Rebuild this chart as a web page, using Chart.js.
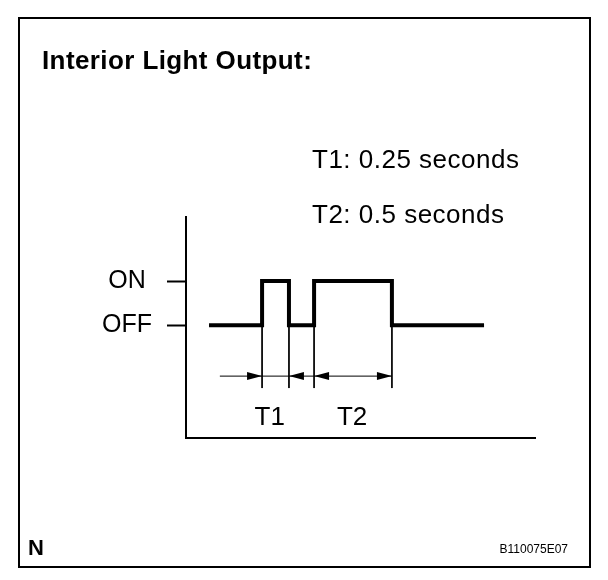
<!DOCTYPE html>
<html>
<head>
<meta charset="utf-8">
<script src="https://cdn.jsdelivr.net/npm/chart.js@4/dist/chart.umd.min.js"></script>
<style>
  html, body { margin: 0; padding: 0; background: #fff; }
  #wrap { width: 608px; height: 580px; }
</style>
</head>
<body>
<div id="wrap"><canvas id="c" width="608" height="580"></canvas></div>
<script>
// ---- data ----
const levelNames = ['OFF', 'ON'];
const levelValues = [2.55, 3.55];
const signalTimes = [6.6, 21.8, 21.8, 29.5, 29.5, 36.7, 36.7, 59.0, 59.0, 85.4];
const signalLevels = [2.55, 2.55, 3.55, 3.55, 2.55, 2.55, 3.55, 3.55, 2.55, 2.55];
const markerTimes = [21.8, 29.5, 36.7, 59.0];
const markerTop = 2.55;
const markerBottom = 1.13;
const arrowLevel = 1.40;
const arrowStart = 9.7;
const arrowEnd = 59.0;
const arrowTips = [21.8, 29.5, 36.7, 59.0];
const arrowDirs = [1, -1, -1, 1];
const intervalLabels = ['T1', 'T2'];
const intervalCenters = [24.0, 47.6];
const titleText = 'Interior Light Output:';
const noteLines = ['T1: 0.25 seconds', 'T2: 0.5 seconds'];
const cornerLeft = 'N';
const cornerRight = 'B110075E07';

const FONT = '"Liberation Sans", Arial, Helvetica, sans-serif';

const datasets = [];
datasets.push({
  data: signalTimes.map((t, i) => ({ x: t, y: signalLevels[i] })),
  showLine: true, borderColor: '#000', borderWidth: 4, pointRadius: 0,
  borderJoinStyle: 'miter', borderCapStyle: 'butt', clip: false
});
markerTimes.forEach((t) => {
  datasets.push({
    data: [{ x: t, y: markerTop }, { x: t, y: markerBottom }],
    showLine: true, borderColor: '#000', borderWidth: 1, pointRadius: 0, clip: false
  });
});
datasets.push({
  data: [{ x: arrowStart, y: arrowLevel }, { x: arrowEnd, y: arrowLevel }],
  showLine: true, borderColor: '#000', borderWidth: 1, pointRadius: 0, clip: false
});

const decor = {
  id: 'decor',
  afterDraw(chart) {
    const ctx = chart.ctx;
    const xs = chart.scales.x, ys = chart.scales.y;
    ctx.save();
    // frame
    ctx.strokeStyle = '#000';
    ctx.lineWidth = 2;
    ctx.strokeRect(19, 18, 571, 549);
    // arrowheads
    ctx.fillStyle = '#000';
    const ay = ys.getPixelForValue(arrowLevel);
    arrowTips.forEach((t, i) => {
      const tx = xs.getPixelForValue(t);
      const d = arrowDirs[i];
      ctx.beginPath();
      ctx.moveTo(tx, ay);
      ctx.lineTo(tx - d * 15, ay - 4);
      ctx.lineTo(tx - d * 15, ay + 4);
      ctx.closePath();
      ctx.fill();
    });
    // texts
    ctx.fillStyle = '#000';
    ctx.textBaseline = 'alphabetic';
    ctx.textAlign = 'left';
    ctx.font = 'bold 26px ' + FONT;
    if ('letterSpacing' in ctx) ctx.letterSpacing = '0.4px';
    ctx.fillText(titleText, 42, 69);
    ctx.font = '26px ' + FONT;
    if ('letterSpacing' in ctx) ctx.letterSpacing = '0.5px';
    ctx.fillText(noteLines[0], 312, 168);
    ctx.fillText(noteLines[1], 312, 223);
    if ('letterSpacing' in ctx) ctx.letterSpacing = '0px';
    ctx.textAlign = 'center';
    intervalLabels.forEach((s, i) => {
      ctx.fillText(s, xs.getPixelForValue(intervalCenters[i]), 425);
    });
    ctx.textAlign = 'left';
    ctx.font = 'bold 22px ' + FONT;
    ctx.fillText(cornerLeft, 28, 555);
    ctx.font = '12px ' + FONT;
    ctx.textAlign = 'right';
    ctx.fillText(cornerRight, 568, 553);
    ctx.restore();
  }
};

new Chart(document.getElementById('c'), {
  type: 'scatter',
  data: { datasets },
  options: {
    responsive: false,
    animation: false,
    events: [],
    layout: { padding: { left: 0, top: 217, right: 73, bottom: 142 } },
    plugins: { legend: { display: false }, tooltip: { enabled: false }, title: { display: false } },
    scales: {
      x: {
        type: 'linear', min: 0, max: 100,
        ticks: { display: false },
        grid: { display: false, drawTicks: false },
        border: { display: true, color: '#000', width: 2 },
        afterFit(s) { s.height = 0; }
      },
      y: {
        type: 'linear', min: 0, max: 5,
        afterBuildTicks(s) { s.ticks = levelValues.map(v => ({ value: v })); },
        ticks: {
          callback: (v) => { const i = levelValues.indexOf(v); return i >= 0 ? levelNames[i] : ''; },
          color: '#000', font: { family: FONT, size: 25 }, padding: 15, crossAlign: 'center'
        },
        grid: { drawOnChartArea: false, drawTicks: true, tickLength: 19, tickWidth: 2, tickColor: '#000' },
        border: { display: true, color: '#000', width: 2 },
        afterFit(s) { s.width = 186; }
      }
    }
  },
  plugins: [decor]
});
</script>
</body>
</html>
